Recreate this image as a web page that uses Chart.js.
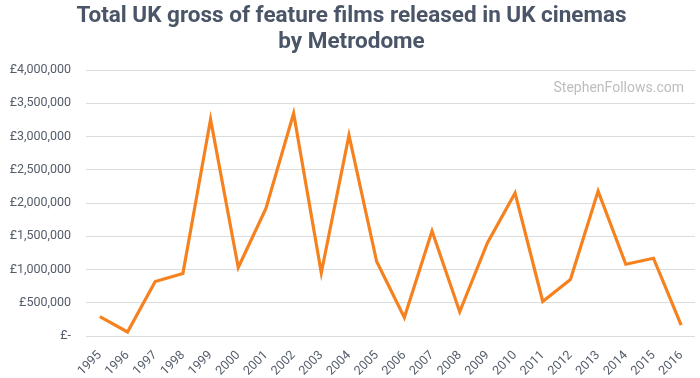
<!DOCTYPE html>
<html>
<head>
<meta charset="utf-8">
<script src="https://cdn.jsdelivr.net/npm/chart.js@4.4.1/dist/chart.umd.min.js"></script>
<style>
  html, body { margin: 0; padding: 0; background: #fff; }
  #wrap { width: 700px; height: 378px; position: relative; }
</style>
</head>
<body>
<div id="wrap"><canvas id="grossChart"></canvas></div>
<script>
// Years on the x axis
var years = ["1995", "1996", "1997", "1998", "1999", "2000", "2001", "2002", "2003", "2004", "2005",
             "2006", "2007", "2008", "2009", "2010", "2011", "2012", "2013", "2014", "2015", "2016"];

// Total UK gross (GBP)
var gross = [290000, 60000, 820000, 940000, 3260000, 1030000, 1920000, 3350000, 950000, 3020000, 1120000,
             280000, 1580000, 365000, 1400000, 2150000, 520000, 850000, 2180000, 1080000, 1170000, 165000];

var titleLines = ["Total UK gross of feature films released in UK cinemas", "by Metrodome"];
var watermark = "StephenFollows.com";

(function () {
    // Small plugin: draw the site watermark at the top right of the plot
    var watermarkPlugin = {
        id: "watermark",
        afterDraw: function (chart) {
            var ctx = chart.ctx;
            var area = chart.chartArea;
            ctx.save();
            ctx.font = "14px Roboto";
            ctx.fillStyle = "#bdbdbd";
            ctx.textAlign = "right";
            ctx.textBaseline = "middle";
            ctx.fillText(watermark, area.right - 11, area.top + 18);
            ctx.restore();
        }
    };

    function formatPounds(v) {
        if (v === 0) return "£-";
        return "£" + v.toLocaleString("en-GB");
    }

    var c = document.getElementById("grossChart");
    new Chart(c, {
        type: "line",
        data: {
            labels: years,
            datasets: [
                {
                    label: "Total UK gross",
                    data: gross,
                    borderColor: "#f5821f",
                    backgroundColor: "#f5821f",
                    borderWidth: 3.2,
                    pointRadius: 0,
                    tension: 0,
                    fill: false,
                },
            ],
        },
        options: {
            responsive: true,
            maintainAspectRatio: false,
            animation: false,
            layout: { padding: { left: 8, right: 5, top: 0, bottom: 0 } },
            plugins: {
                legend: { display: false },
                tooltip: { enabled: false },
                title: {
                    display: true,
                    text: titleLines,
                    color: "#4a5568",
                    font: { family: "Roboto", size: 22.5, weight: "bold", lineHeight: 1.18 },
                    padding: { top: 3, bottom: 14 },
                },
            },
            scales: {
                x: {
                    offset: true,
                    grid: { display: false, drawTicks: false },
                    border: { display: false },
                    afterFit: function (scale) {
                        scale.height = 42;
                        scale.paddingRight = 0;
                        scale.paddingLeft = 0;
                    },
                    ticks: {
                        color: "#555d6b",
                        font: { family: "Roboto", size: 12.5 },
                        minRotation: 45,
                        maxRotation: 45,
                        autoSkip: false,
                        padding: 12,
                    },
                },
                y: {
                    min: 0,
                    max: 4000000,
                    grid: { color: "#dcdcdc", lineWidth: 1, drawTicks: false },
                    border: { display: false },
                    afterFit: function (scale) { scale.width = 78; },
                    ticks: {
                        stepSize: 500000,
                        color: "#555d6b",
                        font: { family: "Roboto", size: 12.5 },
                        padding: 15,
                        callback: function (v) { return formatPounds(v); },
                    },
                },
            },
        },
        plugins: [watermarkPlugin],
    });
})();
</script>
</body>
</html>
